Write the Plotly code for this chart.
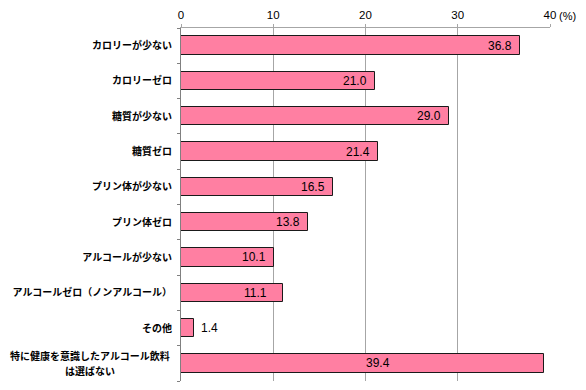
import plotly.graph_objects as go

categories = [
    "カロリーが少ない",
    "カロリーゼロ",
    "糖質が少ない",
    "糖質ゼロ",
    "プリン体が少ない",
    "プリン体ゼロ",
    "アルコールが少ない",
    "アルコールゼロ（ノンアルコール）",
    "その他",
    "特に健康を意識したアルコール飲料<br>は選ばない",
]
values = [36.8, 21.0, 29.0, 21.4, 16.5, 13.8, 10.1, 11.1, 1.4, 39.4]
x_ticks = [0, 10, 20, 30, 40]
x_tick_labels = ["0", "10", "20", "30", "40"]
unit_label = "(%)"

num_font = dict(family="Liberation Sans, Arial", size=12, color="#000")
cat_font = dict(family="Noto Sans CJK JP", size=10, color="#000", weight="bold")

fig = go.Figure()
fig.add_trace(go.Bar(
    y=categories,
    x=values,
    orientation="h",
    width=0.52,
    marker=dict(color="#FF7FA2", line=dict(color="#1a1a1a", width=1)),
    hoverinfo="skip",
))

annotations = []
for i, (c, v) in enumerate(zip(categories, values)):
    txt = f"{v:.1f}"
    if v < 5:
        annotations.append(dict(x=v, y=c, xref="x", yref="y", text=txt, showarrow=False,
                                xanchor="left", xshift=5, font=num_font))
    elif v > 38:
        annotations.append(dict(x=v / 2, y=c, xref="x", yref="y", text=txt, showarrow=False,
                                xanchor="center", xshift=15, font=num_font))
    else:
        shift = -14 if i == 7 else -6
        annotations.append(dict(x=v, y=c, xref="x", yref="y", text=txt, showarrow=False,
                                xanchor="right", xshift=shift, font=num_font))

# multi-line category label, centred like the original (one annotation per line)
tick_text = [c if "<br>" not in c else "" for c in categories]
for c in categories:
    if "<br>" in c:
        lines = c.split("<br>")
        n = len(lines)
        for k, line in enumerate(lines):
            annotations.append(dict(x=0, y=c, xref="x", yref="y", text=line, showarrow=False,
                                    xanchor="center", xshift=-91, borderpad=0,
                                    yshift=(n - 1) * 7.5 - k * 15,
                                    font=cat_font))

annotations.append(dict(x=40, y=1, xref="x", yref="paper", yanchor="bottom", yshift=5,
                        text=unit_label, showarrow=False, xanchor="left", xshift=8,
                        borderpad=0,
                        font=dict(family="Liberation Sans, Arial", size=11, color="#000")))

fig.update_layout(
    width=570, height=374,
    margin=dict(l=173, r=28, t=20, b=1),
    paper_bgcolor="white", plot_bgcolor="white",
    showlegend=False,
    bargap=0,
    annotations=annotations,
    xaxis=dict(
        side="top", range=[0, 40], tickvals=x_ticks, ticktext=x_tick_labels,
        showgrid=True, gridcolor="#a6a6a6", gridwidth=1,
        showline=True, linecolor="#a6a6a6", linewidth=1,
        ticks="outside", ticklen=3, tickcolor="#a6a6a6",
        tickfont=dict(family="Liberation Sans, Arial", size=11.5, color="#000"),
        zeroline=False, fixedrange=True,
    ),
    yaxis=dict(
        categoryorder="array", categoryarray=categories, autorange="reversed",
        tickvals=categories, ticktext=tick_text,
        showline=True, linecolor="#808080", linewidth=1,
        ticks="outside", ticklen=3, tickcolor="#808080", tickson="boundaries",
        tickfont=cat_font,
        ticklabelstandoff=6,
        showgrid=False, fixedrange=True,
    ),
)

fig.write_html("out.html")
